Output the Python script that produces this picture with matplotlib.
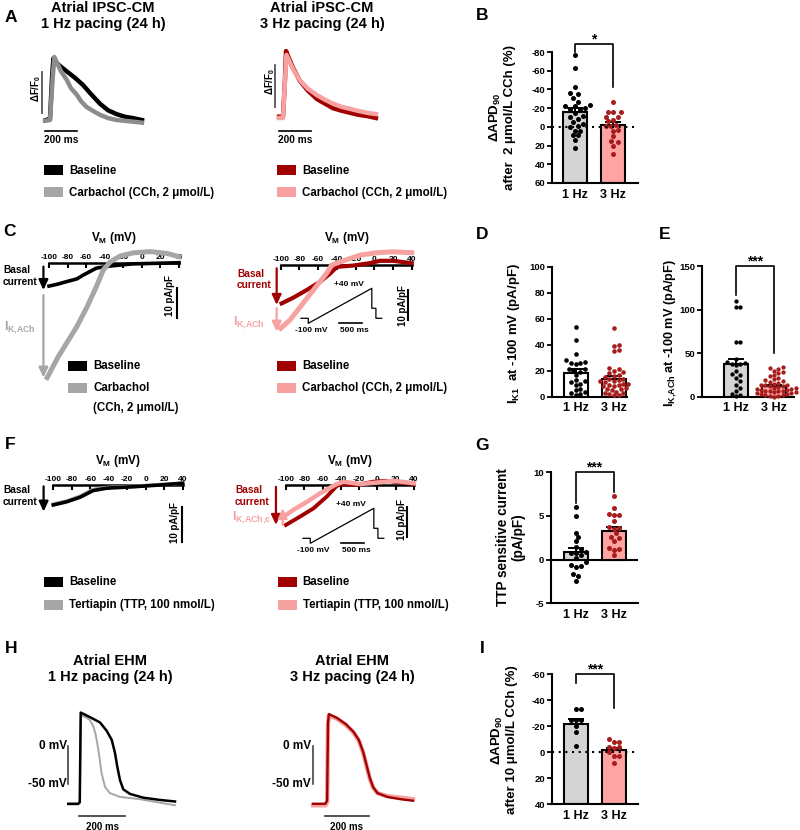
import numpy as np
import matplotlib
matplotlib.use('Agg')
import matplotlib.pyplot as plt
from matplotlib.patches import Rectangle

plt.rcParams['font.family'] = ['Liberation Sans', 'DejaVu Sans']
plt.rcParams['font.weight'] = 'bold'
plt.rcParams['axes.labelweight'] = 'bold'
plt.rcParams['axes.unicode_minus'] = False
plt.rcParams['mathtext.fontset'] = 'custom'
plt.rcParams['mathtext.rm'] = 'Liberation Sans:bold'
plt.rcParams['mathtext.it'] = 'Liberation Sans:bold'
plt.rcParams['mathtext.bf'] = 'Liberation Sans:bold'
plt.rcParams['mathtext.sf'] = 'Liberation Sans:bold'
plt.rcParams['mathtext.default'] = 'rm'

# ============================ DATA ============================
groups = ['1 Hz', '3 Hz']

# A: Ca2+ transients (time in ms, normalised dF/F0)
a1_base_t = [0, 25, 37, 46, 62, 88, 129, 181, 231, 281, 338, 388, 442, 494, 544, 600]
a1_base_f = [0.03, 0.05, 0.65, 0.98, 0.92, 0.86, 0.78, 0.68, 0.57, 0.43, 0.28, 0.18, 0.12, 0.08, 0.06, 0.03]
a1_cch_t = [-6, 25, 41, 52, 69, 94, 129, 156, 192, 219, 254, 294, 338, 388, 442, 525, 600]
a1_cch_f = [0.02, 0.03, 0.65, 1.0, 0.91, 0.78, 0.65, 0.52, 0.42, 0.32, 0.23, 0.17, 0.11, 0.06, 0.03, 0.01, -0.01]
a3_base_t = [0, 25, 37, 44, 62, 88, 131, 181, 238, 288, 338, 394, 444, 494, 550, 606]
a3_base_f = [0.02, 0.02, 0.58, 1.03, 0.92, 0.77, 0.57, 0.42, 0.29, 0.22, 0.15, 0.11, 0.08, 0.05, 0.03, 0.0]
a3_cch_t = [0, 25, 37, 47, 62, 88, 131, 181, 238, 288, 338, 394, 444, 494, 550, 606]
a3_cch_f = [0.0, 0.0, 0.55, 0.97, 0.89, 0.75, 0.58, 0.45, 0.35, 0.28, 0.22, 0.17, 0.14, 0.11, 0.08, 0.06]

# B: dAPD90 after 2 umol/L CCh (%)
b_1hz = [-77, -63, -43, -36, -35, -31, -27, -23, -22, -22, -20, -19, -18, -15, -12, -10, -8, -5, -3, -1, 0, 4, 4, 9, 9, 14, 23]
b_3hz = [-27, -16, -16, -16, -11, -11, -7, -6, -2, -1, -1, 3, 4, 10, 15, 16, 20, 29]
b_mean = [-15.9, -2.0]
b_sem = [4.2, 3.2]

# C: I-V curves (mV, pA/pF)
c1_base_v = [-100, -90, -81, -70, -63, -55, -49, -34, -10, 15, 40]
c1_base_i = [-7.7, -7.0, -6.2, -5.3, -4.0, -2.7, -1.7, -1.0, -0.3, -0.1, 0.1]
c1_cch_v = [-102, -90, -81, -70, -59, -49, -41.5, -34, -23.5, -9, 9, 27, 40]
c1_cch_i = [-38.2, -31.2, -26.7, -21.2, -14.6, -7.9, -2.3, 0.4, 2.3, 3.4, 3.8, 3.2, 2.1]
c3_base_v = [-99, -86, -72, -58, -47, -40, -23, -5, 6, 20, 40]
c3_base_i = [-12.8, -10.8, -8.3, -5.6, -2.8, -0.6, -0.2, 0.6, 1.4, 1.4, 0.6]
c3_cch_v = [-100, -90, -79, -65, -51, -45.5, -33, -15, 3, 20, 40]
c3_cch_i = [-21.1, -18.3, -13.9, -8.3, -2.8, 0.0, 1.4, 3.3, 4.1, 4.4, 4.1]
iv_ticks = [-100, -80, -60, -40, -20, 0, 20, 40]

# voltage-clamp ramp protocol (ms, mV)
prot_t = [0, 160, 160, 1560, 1560, 1650, 1650, 1780]
prot_v = [-80, -80, -100, 40, -40, -40, -80, -80]

# D: IK1 at -100 mV (pA/pF)
d_1hz = [54, 44, 33, 28, 27, 26, 26, 25, 21, 21, 20, 19, 17, 13, 12, 11, 10, 9, 6, 5, 4, 3, 2, 1]
d_3hz = [53, 40, 39, 36, 35, 22, 21, 20, 19, 18, 17, 16, 15, 14, 14, 13, 12, 12, 11, 10, 10, 9, 9, 8, 8, 7,
         6, 6, 5, 4, 3, 3, 2, 1, 1]
d_mean = [18.5, 13.8]
d_sem = [2.6, 1.9]

# E: IK,ACh at -100 mV (pA/pF)
e_1hz = [110, 103, 103, 63, 63, 43, 40, 39, 38, 37, 36, 30, 26, 25, 22, 18, 14, 10, 6, 3, 2, 1]
e_3hz = [34, 33, 32, 30, 28, 27, 25, 24, 22, 20, 19, 18, 17, 16, 15, 14, 14, 13, 12, 12, 11, 10, 10, 9, 9,
         8, 8, 7, 7, 6, 6, 5, 5, 4, 4, 3, 3, 2, 2, 1, 1, 0]
e_mean = [37.0, 12.0]
e_sem = [6.0, 1.5]

# F: I-V curves with tertiapin
f1_base_v = [-100, -85.5, -71, -57, -42, -13, 15, 40]
f1_base_i = [-5.7, -4.8, -3.5, -1.6, -0.9, -0.5, 0.0, 0.5]
f1_ttp_v = [-100, -85.5, -71, -57, -42, -13, 15, 40]
f1_ttp_i = [-5.5, -4.6, -3.2, -1.3, -0.7, -0.4, 0.1, 0.5]
f3_base_v = [-100, -85, -70, -55.5, -44.5, -39, -23, -4.5, 10, 25, 40]
f3_base_i = [-13.3, -10.6, -7.8, -3.9, -0.3, 0.3, 0.0, 1.1, 1.4, 0.8, 0.3]
f3_ttp_v = [-100, -92, -77, -63, -44.5, -37, -19, -1, 17, 40]
f3_ttp_i = [-10.0, -8.3, -5.6, -2.8, 0.3, 1.1, 0.3, 0.8, 1.4, 0.6]

# G: TTP sensitive current (pA/pF)
g_1hz = [6.0, 5.0, 3.1, 2.6, 2.1, 1.5, 1.2, 0.9, 0.8, 0.8, 0.5, 0.2, -0.3, -0.6, -0.7, -0.8, -1.6, -1.9, -2.4]
g_3hz = [7.3, 5.9, 5.2, 5.1, 5.1, 4.4, 3.7, 3.6, 3.5, 3.0, 2.6, 2.5, 2.1, 1.3, 1.2, 1.1, 0.5]
g_mean = [0.85, 3.3]
g_sem = [0.45, 0.4]

# H: action potentials in EHM (ms, mV)
h1_base_t = [-51, -8, -1, 3, 43, 87, 116, 138, 152, 162, 174, 188, 217, 275, 348, 413]
h1_base_v = [-76, -76, -74, 44, 38, 31, 20, 8, -9, -27, -45, -57, -63, -68, -71, -73]
h1_cch_t = [-51, -8, -1, 4, 25, 43, 58, 68, 75, 84, 94, 109, 130, 174, 261, 413]
h1_cch_v = [-77, -77, -75, 40, 38, 34, 26, 15, 4, -14, -36, -54, -62, -67, -70, -78]
h3_base_t = [-68, -12, -4, 0, 4, 40, 80, 115, 140, 160, 175, 190, 205, 225, 270, 330, 386]
h3_base_v = [-76, -76, -72, 30, 42, 37, 29, 19, 8, -8, -25, -42, -54, -62, -67, -70, -72]
h3_cch_t = [-68, -12, -4, 0, 4, 40, 80, 115, 140, 160, 175, 190, 205, 225, 270, 330, 386]
h3_cch_v = [-78, -78, -74, 28, 40, 36, 28, 18, 7, -9, -26, -43, -55, -62, -66, -68, -70]

# I: dAPD90 after 10 umol/L CCh (%)
i_1hz = [-33, -33, -25, -25, -25, -20, -16, -5]
i_3hz = [-10, -8, -8, -4, -4, -3, 0, 3, 3, 8]
i_mean = [-21.5, -1.8]
i_sem = [3.9, 1.8]

# ============================ STYLE ============================
BLACK = '#000000'
GRAY = '#a6a6a6'
DRED = '#a00000'
PINK = '#f7a1a1'
FILL1 = '#d4d4d4'
FILL3 = '#ffa3a3'
DOT3 = '#a81c1c'

W, H = 800, 830
fig = plt.figure(figsize=(8, 8.3), dpi=100)


def add_ax(x0, y0, x1, y1):
    return fig.add_axes([x0 / W, 1 - y1 / H, (x1 - x0) / W, (y1 - y0) / H])


def mapped_ax(box, xref, sx, yref, sy):
    x0, y0, x1, y1 = box
    pxr, xr = xref
    pyr, yr = yref
    ax = add_ax(*box)
    ax.set_xlim(xr + (x0 - pxr) / sx, xr + (x1 - pxr) / sx)
    ax.set_ylim(yr - (y1 - pyr) / sy, yr + (pyr - y0) / sy)
    ax.patch.set_alpha(0)
    for s in ax.spines.values():
        s.set_visible(False)
    ax.set_xticks([])
    ax.set_yticks([])
    return ax


ov = add_ax(0, 0, W, H)
ov.set_xlim(0, W)
ov.set_ylim(H, 0)
ov.axis('off')


def legend_item(x, y, color, label, w=19, h=10):
    ov.add_patch(Rectangle((x, y - h / 2), w, h, color=color, lw=0))
    ov.text(x + w + 6, y, label, ha='left', va='center', fontsize=8.3)


# panel letters
for lab, (x, y) in {'A': (11, 17), 'B': (482, 16), 'C': (10, 231), 'D': (482, 234), 'E': (665, 234),
                    'F': (10, 444), 'G': (482, 445), 'H': (11, 648), 'I': (482, 648)}.items():
    ov.text(x, y, lab, ha='center', va='center', fontsize=12.5)

# ============================ A ============================
ov.text(103, 16, 'Atrial IPSC-CM\n1 Hz pacing (24 h)', ha='center', va='center', fontsize=10.5, linespacing=1.2)
ov.text(322, 16, 'Atrial iPSC-CM\n3 Hz pacing (24 h)', ha='center', va='center', fontsize=10.5, linespacing=1.2)

axA1 = mapped_ax((20, 40, 170, 150), (46, 0), 0.16, (122, 0), 65)
axA1.plot(a1_base_t, a1_base_f, color=BLACK, lw=3.2, solid_joinstyle='round')
axA1.plot(a1_cch_t, a1_cch_f, color='#8c8c8c', lw=3.2, solid_joinstyle='round')
axA1.plot([-27, -27], [0.14, 0.77], color='#555555', lw=1.3)
axA1.plot([-6, 194], [-0.14, -0.14], color=BLACK, lw=1.2)
axA1.text(94, -0.28, '200 ms', ha='center', va='center', fontsize=7.3)
ov.text(36, 88, r'ΔF/F$_0$', rotation=90, ha='center', va='center', fontsize=7)

axA3 = mapped_ax((255, 40, 400, 150), (279, 0), 0.16, (118, 0), 65)
axA3.plot(a3_base_t, a3_base_f, color=DRED, lw=3.2, solid_joinstyle='round')
axA3.plot(a3_cch_t, a3_cch_f, color=PINK, lw=3.2, solid_joinstyle='round')
axA3.plot([-25, -25], [0.17, 0.82], color='#555555', lw=1.3)
axA3.plot([0, 200], [-0.2, -0.2], color=BLACK, lw=1.2)
axA3.text(100, -0.34, '200 ms', ha='center', va='center', fontsize=7.3)
ov.text(270, 81, r'ΔF/F$_0$', rotation=90, ha='center', va='center', fontsize=7)

legend_item(44.3, 170.5, BLACK, 'Baseline')
legend_item(44.3, 192.5, GRAY, 'Carbachol (CCh, 2 μmol/L)')
legend_item(277, 170.5, DRED, 'Baseline')
legend_item(277, 192.5, PINK, 'Carbachol (CCh, 2 μmol/L)')


# ============================ bar panels ============================
def swarm(ax, xc, vals, diam):
    tr = ax.transData
    x0d = tr.transform((xc, 0))[0]
    pxu = tr.transform((xc + 1, 0))[0] - x0d
    ys = [tr.transform((xc, v))[1] for v in vals]
    step = diam * 0.5
    cands = [0.0]
    for k in range(1, 40):
        cands += [k * step, -k * step]
    placed = []
    xs = [xc] * len(vals)
    for k in sorted(range(len(vals)), key=lambda j: ys[j]):
        y = ys[k]
        for c in cands:
            if all((c - px) ** 2 + (y - py) ** 2 >= (diam * 0.98) ** 2 for px, py in placed):
                break
        placed.append((c, y))
        xs[k] = xc + c / pxu
    return xs


def bar_panel(box, c1, c2, top_val, bot_val, yticks, d1, d2, means, sems, fills, base, diam=5.0):
    x0, y0, x1, y1 = box
    ax = add_ax(x0, y0, x1, y1)
    sp = c2 - c1
    ax.set_xlim((x0 - c1) / sp, (x1 - c1) / sp)
    ax.set_ylim(bot_val, top_val)
    ax.patch.set_alpha(0)
    for s in ['top', 'right']:
        ax.spines[s].set_visible(False)
    for s in ['left', 'bottom']:
        ax.spines[s].set_linewidth(1.5)
    ax.set_yticks(yticks)
    ax.set_yticklabels([str(t) for t in yticks])
    ax.tick_params(axis='y', length=3.5, width=1.3, labelsize=6.8, pad=1.5)
    ax.set_xticks([0, 1])
    ax.set_xticklabels(groups, fontsize=9)
    ax.tick_params(axis='x', length=0, pad=4)
    bw = 24 / sp
    ax.bar([0, 1], [m - base for m in means], bottom=base, width=bw, color=fills,
           edgecolor='k', linewidth=1.5, zorder=2)
    cw = 7 / sp
    for i, (m, s) in enumerate(zip(means, sems)):
        e = m + (s if m >= 0 else -s)
        ax.plot([i, i], [m, e], color='k', lw=1.4, zorder=2.5)
        ax.plot([i - cw, i + cw], [e, e], color='k', lw=1.4, zorder=2.5)
    for i, (d, col) in enumerate(zip([d1, d2], [BLACK, DOT3])):
        xs = swarm(ax, i, d, diam)
        ax.scatter(xs, d, s=(diam * 0.72) ** 2, color=col, zorder=3, linewidths=0, clip_on=False)
    return ax


def bracket(ax, ytop, yl, yr, stars, off):
    ax.plot([0, 0, 1, 1], [yl, ytop, ytop, yr], color='k', lw=1.2, clip_on=False)
    ax.text(0.5, ytop + off, stars, ha='center', va='center', fontsize=10, clip_on=False)


# B
axB = bar_panel((552, 52, 638, 183), 575, 613, -80, 60, [-80, -60, -40, -20, 0, 20, 40, 60],
                b_1hz, b_3hz, b_mean, b_sem, [FILL1, FILL3], 60, diam=5.0)
axB.axhline(0, color='k', lw=1.5, ls=(0, (1, 2.2)), zorder=4)
bracket(axB, -89, -80, -43, '*', -4.5)
ov.text(502, 117, 'ΔAPD$_{90}$\nafter  2 μmol/L CCh (%)', rotation=90, ha='center', va='center',
        fontsize=9.5, linespacing=1.1)

# D
axD = bar_panel((552, 266.7, 627, 396.7), 575.5, 614, 100, 0, [0, 20, 40, 60, 80, 100],
                d_1hz, d_3hz, d_mean, d_sem, ['white', 'white'], 0, diam=4.6)
ov.text(514, 333, r'I$_{K1}$  at -100 mV (pA/pF)', rotation=90, ha='center', va='center', fontsize=9.5)

# E
axE = bar_panel((702, 266, 794, 396.7), 736, 774, 150, 0, [0, 50, 100, 150],
                e_1hz, e_3hz, e_mean, e_sem, [FILL1, FILL3], 0, diam=4.3)
bracket(axE, 150, 117, 50, '***', 5)
ov.text(671, 333, r'I$_{K{,}ACh}$ at -100 mV (pA/pF)', rotation=90, ha='center', va='center', fontsize=9.2)

# G
axG = bar_panel((551, 472.3, 638, 603.3), 575.5, 613.5, 10, -5, [-5, 0, 5, 10],
                g_1hz, g_3hz, g_mean, g_sem, [FILL1, FILL3], 0, diam=5.0)
axG.axhline(0, color='k', lw=1.5, zorder=1.5)
bracket(axG, 10, 6.5, 7.8, '***', 0.5)
ov.text(511, 537, 'TTP sensitive current\n(pA/pF)', rotation=90, ha='center', va='center',
        fontsize=9.8, linespacing=1.15)

# I
axI = bar_panel((552, 674.3, 638, 804.3), 576, 614, -60, 40, [-60, -40, -20, 0, 20, 40],
                i_1hz, i_3hz, i_mean, i_sem, [FILL1, FILL3], 40, diam=5.0)
axI.axhline(0, color='k', lw=1.5, ls=(0, (1, 2.2)), zorder=4)
bracket(axI, -60.5, -53, -34, '***', -3.5)
ov.text(504, 740, 'ΔAPD$_{90}$\nafter 10 μmol/L CCh (%)', rotation=90, ha='center', va='center',
        fontsize=9.5, linespacing=1.1)


# ============================ I-V panels ============================
def iv_axes(box, px100, sx, py0, sy):
    ax = mapped_ax(box, (px100, -100), sx, (py0, 0), sy)
    sp = ax.spines['top']
    sp.set_visible(True)
    sp.set_position(('data', 0))
    sp.set_bounds(-100, 40)
    sp.set_linewidth(1.8)
    ax.xaxis.set_ticks_position('top')
    ax.set_xticks(iv_ticks)
    ax.set_xticklabels([str(v) for v in iv_ticks])
    ax.tick_params(axis='x', top=True, bottom=False, labeltop=True, labelbottom=False,
                   direction='in', length=3.5, width=1.5, pad=1.5, labelsize=6)
    return ax


def arrow(ax, x, y0, y1, color):
    ax.annotate('', xy=(x, y1), xytext=(x, y0),
                arrowprops=dict(arrowstyle='-|>,head_width=0.28,head_length=0.6', lw=1.6,
                                color=color, shrinkA=0, shrinkB=0), annotation_clip=False)


def protocol(box):
    ax = mapped_ax(box, (box[0] + 11, 0), 0.0454, (box[1] + 48.3, -100), 0.25)
    ax.plot(prot_t, prot_v, color='k', lw=0.9)
    ax.plot([837, 1337], [-97.6, -97.6], color='k', lw=1.2)
    ax.text(1057, 57, '+40 mV', ha='center', va='center', fontsize=6)
    ax.text(236, -130, '-100 mV', ha='center', va='center', fontsize=6)
    ax.text(1183, -130, '500 ms', ha='center', va='center', fontsize=6)
    return ax


# C left
axC1 = iv_axes((0, 232, 205, 400), 49, 0.9286, 263, 3.0)
axC1.plot(c1_base_v, c1_base_i, color=BLACK, lw=2.6, zorder=3, solid_joinstyle='round')
axC1.plot(c1_cch_v, c1_cch_i, color=GRAY, lw=3.6, zorder=3, solid_joinstyle='round')
arrow(axC1, -106, -1.2, c1_base_i[0] - 1.3, BLACK)
arrow(axC1, -106, -10.7, c1_cch_i[0], GRAY)
axC1.plot([38.2, 38.2], [-8.4, -18.4], color='k', lw=1.5)
ov.text(170, 296, '10 pA/pF', rotation=90, ha='center', va='center', fontsize=7)
ov.text(114, 238, r'V$_M$ (mV)', ha='center', va='center', fontsize=8.5)
ov.text(3, 276, 'Basal\ncurrent', ha='left', va='center', fontsize=7.3, linespacing=1.15)
ov.text(4, 328, r'I$_{K{,}ACh}$', ha='left', va='center', fontsize=9, color=GRAY)
legend_item(68.3, 366, BLACK, 'Baseline')
legend_item(68.3, 388, GRAY, 'Carbachol')
ov.text(93.3, 408, '(CCh, 2 μmol/L)', ha='left', va='center', fontsize=8.3)

# C right
axC3 = iv_axes((225, 232, 430, 400), 280.7, 0.936, 265, 3.0)
axC3.plot(c3_base_v, c3_base_i, color=DRED, lw=3.0, zorder=3, solid_joinstyle='round')
axC3.plot(c3_cch_v, c3_cch_i, color=PINK, lw=3.6, zorder=3, solid_joinstyle='round')
arrow(axC3, -104.3, -1.1, c3_base_i[0] - 0.5, DRED)
arrow(axC3, -104.3, -14.4, c3_cch_i[0] - 1.1, PINK)
axC3.plot([36.3, 36.3], [-8.3, -18.3], color='k', lw=1.5)
protocol((290, 275, 395, 345))
ov.text(403, 306, '10 pA/pF', rotation=90, ha='center', va='center', fontsize=7)
ov.text(347, 238, r'V$_M$ (mV)', ha='center', va='center', fontsize=8.5)
ov.text(237, 279.5, 'Basal\ncurrent', ha='left', va='center', fontsize=7.3, linespacing=1.15, color=DRED)
ov.text(233, 323, r'I$_{K{,}ACh}$', ha='left', va='center', fontsize=9, color=PINK)
legend_item(277, 366, DRED, 'Baseline')
legend_item(277, 388, PINK, 'Carbachol (CCh, 2 μmol/L)')

# F left
axF1 = iv_axes((0, 455, 205, 560), 53.3, 0.924, 485, 3.5)
axF1.plot(f1_ttp_v, f1_ttp_i, color=GRAY, lw=2.6, zorder=3, solid_joinstyle='round')
axF1.plot(f1_base_v, f1_base_i, color=BLACK, lw=2.6, zorder=3, solid_joinstyle='round')
arrow(axF1, -110.5, -0.4, f1_base_i[0] - 1.9, BLACK)
axF1.plot([38.9, 38.9], [-6.2, -16.2], color='k', lw=1.5)
ov.text(175, 523, '10 pA/pF', rotation=90, ha='center', va='center', fontsize=7)
ov.text(118, 461, r'V$_M$ (mV)', ha='center', va='center', fontsize=8.5)
ov.text(3, 496, 'Basal\ncurrent', ha='left', va='center', fontsize=7.3, linespacing=1.15)
legend_item(44.3, 581.7, BLACK, 'Baseline')
legend_item(44.3, 605, GRAY, 'Tertiapin (TTP, 100 nmol/L)')

# F right
axF3 = iv_axes((225, 455, 430, 560), 286, 0.914, 485, 3.0)
axF3.plot(f3_base_v, f3_base_i, color=DRED, lw=2.8, zorder=3, solid_joinstyle='round')
axF3.plot(f3_ttp_v, f3_ttp_i, color=PINK, lw=3.2, zorder=3, solid_joinstyle='round')
arrow(axF3, -111, -0.6, f3_base_i[0], DRED)
arrow(axF3, -103.6, f3_base_i[0], f3_ttp_i[0] + 2.3, PINK)
axF3.plot([32, 32], [-7.2, -17.2], color='k', lw=1.5)
protocol((292, 495, 397, 565))
ov.text(401.7, 520, '10 pA/pF', rotation=90, ha='center', va='center', fontsize=7)
ov.text(350, 461, r'V$_M$ (mV)', ha='center', va='center', fontsize=8.5)
ov.text(235, 496, 'Basal\ncurrent', ha='left', va='center', fontsize=7.3, linespacing=1.15, color=DRED)
ov.text(232, 518, r'I$_{K{,}ACh{,}c}$', ha='left', va='center', fontsize=9, color=PINK)
legend_item(277.7, 581.7, DRED, 'Baseline')
legend_item(277.7, 605, PINK, 'Tertiapin (TTP, 100 nmol/L)')

# ============================ H ============================
ov.text(110, 669, 'Atrial EHM\n1 Hz pacing (24 h)', ha='center', va='center', fontsize=10.5, linespacing=1.2)
ov.text(352, 669, 'Atrial EHM\n3 Hz pacing (24 h)', ha='center', va='center', fontsize=10.5, linespacing=1.2)

axH1 = mapped_ax((0, 700, 200, 830), (80, 0), 0.23, (746, 0), 0.76)
axH1.plot(h1_cch_t, h1_cch_v, color=GRAY, lw=1.4, solid_joinstyle='round')
axH1.plot(h1_base_t, h1_base_v, color=BLACK, lw=1.8, solid_joinstyle='round')
axH1.plot([-51, -51], [0, -50], color='#333333', lw=1.1)
axH1.plot([-4, 196], [-92, -92], color='#333333', lw=1.2)
axH1.text(-58, 0, '0 mV', ha='right', va='center', fontsize=8.5)
axH1.text(-58, -50, '-50 mV', ha='right', va='center', fontsize=8.5)
axH1.text(96, -106, '200 ms', ha='center', va='center', fontsize=7)

axH3 = mapped_ax((240, 700, 440, 830), (328, 0), 0.22, (746, 0), 0.76)
axH3.plot(h3_cch_t, h3_cch_v, color=PINK, lw=3.2, solid_joinstyle='round')
axH3.plot(h3_base_t, h3_base_v, color=DRED, lw=1.7, solid_joinstyle='round')
axH3.plot([-68, -68], [0, -50], color='#333333', lw=1.1)
axH3.plot([-14, 186], [-92, -92], color='#333333', lw=1.2)
axH3.text(-78, 0, '0 mV', ha='right', va='center', fontsize=8.5)
axH3.text(-78, -50, '-50 mV', ha='right', va='center', fontsize=8.5)
axH3.text(86, -106, '200 ms', ha='center', va='center', fontsize=7)

fig.savefig('out.png', dpi=100)
